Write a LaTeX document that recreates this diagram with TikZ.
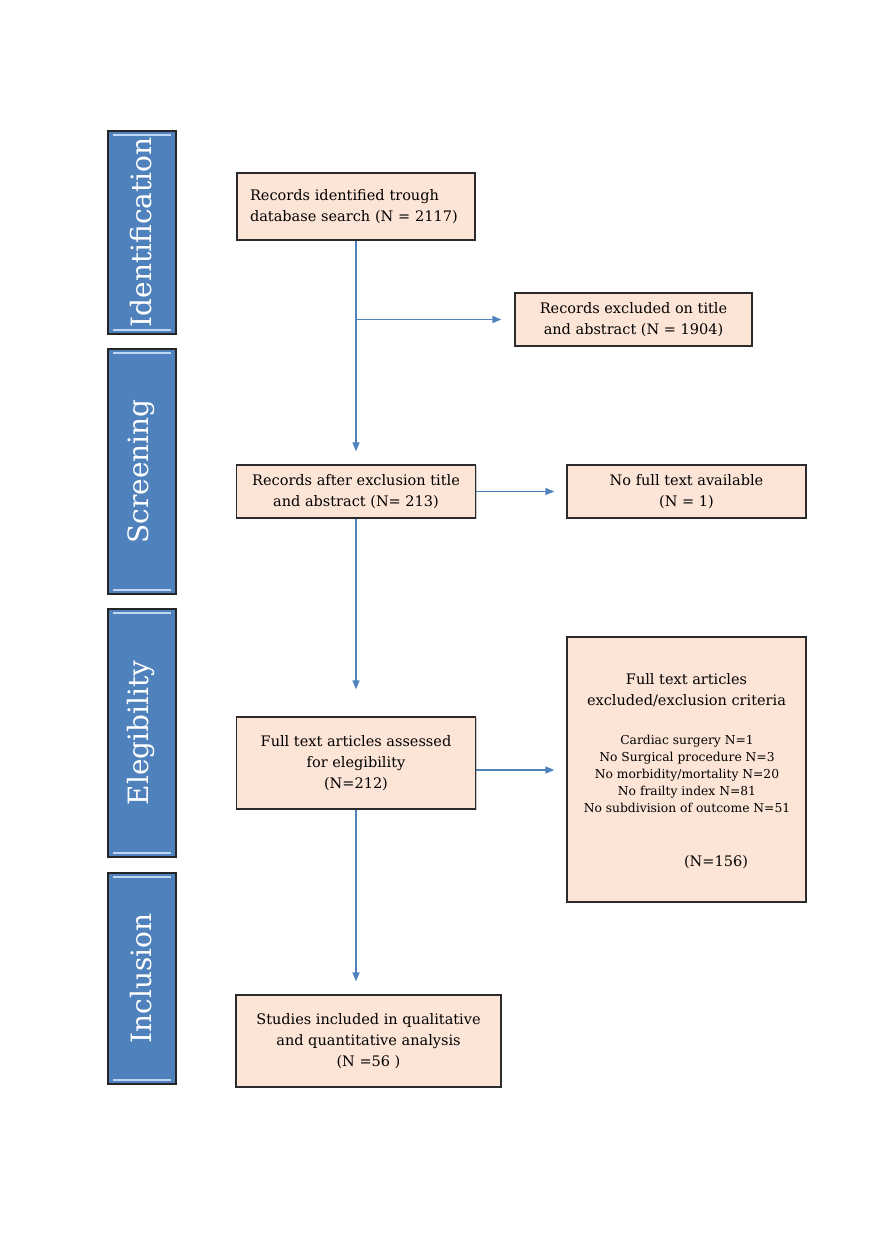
\documentclass[tikz,border=0pt]{standalone}
\usepackage{fontspec}
\setmainfont{DejaVu Serif}
\usetikzlibrary{arrows.meta,calc,shadows}
\definecolor{barblue}{HTML}{4F81BD}
\definecolor{barhi}{HTML}{BFD7F2}
\definecolor{boxfill}{HTML}{FCE4D6}
\definecolor{boxline}{HTML}{2B2B2B}
\definecolor{arrblue}{HTML}{4F81BD}
\tikzset{
  flowbox/.style={draw=boxline, line width=1.3pt, fill=boxfill, rectangle, inner sep=0pt,
    drop shadow={shadow xshift=1.2pt, shadow yshift=-1.2pt, opacity=0.35, fill=black!60},
    font=\fontsize{14.5}{21}\selectfont, align=center},
  sidebar/.style={draw=black!85, line width=1.2pt, fill=barblue, rectangle, inner sep=0pt,
    minimum width=68pt},
  sidetext/.style={text=white, rotate=90, font=\fontsize{28}{32}\selectfont},
  flowarrow/.style={draw=arrblue, line width=1.5pt, -{Triangle[length=9pt,width=7pt]}}
}
\begin{document}
\begin{tikzpicture}[x=1pt,y=-1pt]
\useasboundingbox (0,0) rectangle (876,1240);
\fill[white] (0,0) rectangle (876,1240);

% side bars
\foreach \nm/\cy/\h/\txt in {barA/232.5/203/Identification, barB/471.5/245/Screening, barC/733/248/Elegibility, barD/978.5/211/Inclusion}{
  \node[sidebar, minimum height=\h pt] (\nm) at (142,\cy) {};
  \draw[barhi, line width=2pt] ([xshift=6pt,yshift=-5pt]\nm.north west) -- ([xshift=-6pt,yshift=-5pt]\nm.north east);
  \draw[barhi, line width=2pt] ([xshift=6pt,yshift=5pt]\nm.south west) -- ([xshift=-6pt,yshift=5pt]\nm.south east);
  \node[sidetext] (\nm t) at ([xshift=-1pt]\nm.center) {\txt};
}

% boxes
\node[flowbox, minimum width=238pt, minimum height=67pt, text width=212pt, align=left, inner xsep=13pt] (b1) at (356,206.5)
  {Records identified trough\\database search (N = 2117)};
\node[flowbox, minimum width=237pt, minimum height=53pt] (b2) at (633.5,319.5)
  {Records excluded on title\\and abstract (N = 1904)};
\node[flowbox, minimum width=239pt, minimum height=53pt] (b3) at (356,491.5)
  {Records after exclusion title\\and abstract (N= 213)};
\node[flowbox, minimum width=239pt, minimum height=53pt] (b4) at (686.5,491.5)
  {No full text available\\(N = 1)};
\node[flowbox, minimum width=239pt, minimum height=92pt] (b5) at (356,763)
  {Full text articles assessed\\for elegibility\\(N=212)};
\node[flowbox, minimum width=239pt, minimum height=265pt] (b6) at (686.5,769.5) {};
\node[font=\fontsize{14.5}{21}\selectfont, align=center] (b6a) at (686.5,690)
  {Full text articles\\excluded/exclusion criteria};
\node[font=\fontsize{12.3}{17}\selectfont, align=center] (b6b) at (687,774)
  {Cardiac surgery N=1\\No Surgical procedure N=3\\No morbidity/mortality N=20\\No frailty index N=81\\No subdivision of outcome N=51};
\node[font=\fontsize{14.5}{21}\selectfont] (b6c) at (716,862) {(N=156)};
\node[flowbox, minimum width=265pt, minimum height=92pt] (b7) at (368.5,1041)
  {Studies included in qualitative\\and quantitative analysis\\(N =56 )};

% connectors
\coordinate (j1) at (b1.south |- b2.west);
\draw[flowarrow, shorten >=13pt] (b1.south) -- (b1.south |- b3.north);
\draw[flowarrow, shorten >=13pt] (j1) -- (b2.west);
\draw[flowarrow, shorten >=12pt] (b3.east) -- (b4.west);
\draw[flowarrow, shorten >=27pt] (b3.south) -- (b3.south |- b5.north);
\draw[flowarrow, shorten >=12pt] ([yshift=-7pt]b5.east) -- ([yshift=-7pt]b5.east -| b6.west);
\draw[flowarrow, shorten >=13pt] (b5.south) -- (b5.south |- b7.north);
\end{tikzpicture}
\end{document}
